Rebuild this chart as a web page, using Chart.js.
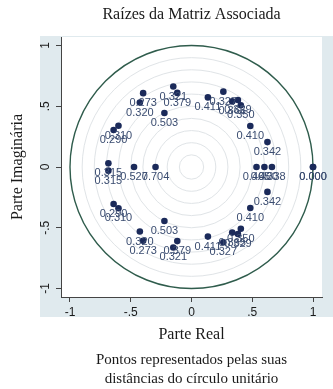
<!DOCTYPE html>
<html>
<head>
<meta charset="utf-8">
<script src="https://cdn.jsdelivr.net/npm/chart.js@4/dist/chart.umd.min.js"></script>
<style>
  html, body { margin: 0; padding: 0; background: #ffffff; }
  #wrap { width: 333px; height: 389px; }
</style>
</head>
<body>
<div id="wrap"><canvas id="roots" width="333" height="389"></canvas></div>
<script>
// Eigenvalues of the companion matrix: real and imaginary parts
const realParts = [
  -0.150, -0.150, -0.117, -0.117, -0.398, -0.398, -0.425, -0.425,
  -0.223, -0.223, -0.601, -0.601, -0.641, -0.641, -0.684, -0.684,
  -0.473, -0.296, 0.535, 0.600, 0.662, 1.000, 1.000,
  0.135, 0.135, 0.262, 0.262, 0.335, 0.335, 0.382, 0.382,
  0.406, 0.406, 0.484, 0.484, 0.625, 0.625
];
const imagParts = [
  0.662, -0.662, 0.610, -0.610, 0.608, -0.608, 0.531, -0.531,
  0.444, -0.444, 0.339, -0.339, 0.305, -0.305, 0.030, -0.030,
  0, 0, 0, 0, 0, 0, 0,
  0.573, -0.573, 0.620, -0.620, 0.540, -0.540, 0.552, -0.552,
  0.508, -0.508, 0.338, -0.338, 0.205, -0.205
];

const tickValues = [-1, -0.5, 0, 0.5, 1];
const tickLabels = ['-1', '-.5', '0', '.5', '1'];
const ringRadii = [0.1, 0.2, 0.3, 0.4, 0.5, 0.6, 0.7, 0.8, 0.9];

const points = realParts.map((re, i) => ({ x: re, y: imagParts[i] }));
// distance of each root from the unit circle
const distanceLabels = points.map(p => (1 - Math.hypot(p.x, p.y)).toFixed(3));

const NAVY = '#1b2a5a';
const TEXT = '#1a1a1a';
const SERIF = '"Liberation Serif", "Times New Roman", serif';
const SANS = '"Liberation Sans", Arial, sans-serif';

const backdrop = {
  id: 'backdrop',
  beforeDraw(chart) {
    const { ctx, chartArea: a, width } = chart;
    ctx.save();
    ctx.fillStyle = '#ffffff';
    ctx.fillRect(0, 0, width, chart.height);
    ctx.fillStyle = '#e0eaee';
    ctx.fillRect(a.left - 21, a.top - 1, width - (a.left - 21), (a.bottom + 20) - (a.top - 1));
    ctx.fillStyle = '#ffffff';
    ctx.fillRect(a.left, a.top, a.right - a.left, a.bottom - a.top);
    ctx.restore();
  }
};

const circles = {
  id: 'circles',
  beforeDatasetsDraw(chart) {
    const { ctx, scales: { x, y } } = chart;
    const cx = x.getPixelForValue(0);
    const cy = y.getPixelForValue(0);
    const unit = x.getPixelForValue(1) - cx;
    ctx.save();
    ctx.strokeStyle = '#e0e4e7';
    ctx.lineWidth = 1;
    ringRadii.forEach(r => {
      ctx.beginPath();
      ctx.arc(cx, cy, r * unit, 0, Math.PI * 2);
      ctx.stroke();
    });
    ctx.strokeStyle = '#2f5c4c';
    ctx.lineWidth = 1.4;
    ctx.beginPath();
    ctx.arc(cx, cy, unit, 0, Math.PI * 2);
    ctx.stroke();
    ctx.restore();
  }
};

const pointLabels = {
  id: 'pointLabels',
  afterDatasetsDraw(chart) {
    const { ctx } = chart;
    const meta = chart.getDatasetMeta(0);
    ctx.save();
    ctx.font = '11px ' + SANS;
    ctx.fillStyle = '#3a4c70';
    ctx.textAlign = 'center';
    ctx.textBaseline = 'middle';
    meta.data.forEach((el, i) => {
      ctx.fillText(distanceLabels[i], el.x, el.y + 10);
    });
    ctx.restore();
  }
};

function axisTicks(scale) {
  scale.ticks = tickValues.map(v => ({ value: v }));
}
function tickText(v) {
  const i = tickValues.indexOf(v);
  return i >= 0 ? tickLabels[i] : '';
}

new Chart(document.getElementById('roots'), {
  type: 'scatter',
  data: {
    datasets: [{
      data: points,
      pointRadius: 3.3,
      pointBackgroundColor: NAVY,
      pointBorderWidth: 0
    }]
  },
  options: {
    responsive: false,
    devicePixelRatio: 1,
    animation: false,
    events: [],
    layout: { padding: { left: 0, right: 11, top: 0, bottom: 0 } },
    plugins: {
      legend: { display: false },
      tooltip: { enabled: false },
      title: {
        display: true,
        fullSize: false,
        text: 'Raízes da Matriz Associada',
        color: TEXT,
        font: { family: SERIF, size: 16, weight: 'normal' },
        padding: { top: 5.4, bottom: 12.4 }
      },
      subtitle: {
        display: true,
        position: 'bottom',
        fullSize: false,
        text: ['Pontos representados pelas suas', 'distâncias do círculo unitário'],
        color: TEXT,
        font: { family: SERIF, size: 15, lineHeight: 19 / 15 },
        padding: { top: 5.5, bottom: 0.5 }
      }
    },
    scales: {
      x: {
        type: 'linear',
        min: -1.074,
        max: 1.074,
        afterBuildTicks: axisTicks,
        afterFit(s) { s.height = 48; },
        ticks: {
          callback: tickText,
          color: TEXT,
          font: { family: SANS, size: 12 },
          padding: 3,
          maxRotation: 0,
          autoSkip: false
        },
        grid: { drawOnChartArea: false, drawTicks: true, tickLength: 5, color: '#444' },
        border: { display: true, color: '#444', width: 1 },
        title: {
          display: true,
          text: 'Parte Real',
          color: TEXT,
          font: { family: SERIF, size: 16 },
          padding: { top: 0, bottom: 0.4 }
        }
      },
      y: {
        type: 'linear',
        min: -1.07,
        max: 1.07,
        afterBuildTicks: axisTicks,
        afterFit(s) { s.width = 61; },
        ticks: {
          callback: tickText,
          color: TEXT,
          font: { family: SANS, size: 12 },
          padding: 3.5,
          minRotation: 90,
          maxRotation: 90,
          crossAlign: 'center',
          autoSkip: false
        },
        grid: { drawOnChartArea: false, drawTicks: true, tickLength: 5, color: '#444' },
        border: { display: true, color: '#444', width: 1 },
        title: {
          display: true,
          text: 'Parte Imaginária',
          color: TEXT,
          font: { family: SERIF, size: 16 },
          padding: { top: 8.4, bottom: 0 }
        }
      }
    }
  },
  plugins: [backdrop, circles, pointLabels]
});
</script>
</body>
</html>
